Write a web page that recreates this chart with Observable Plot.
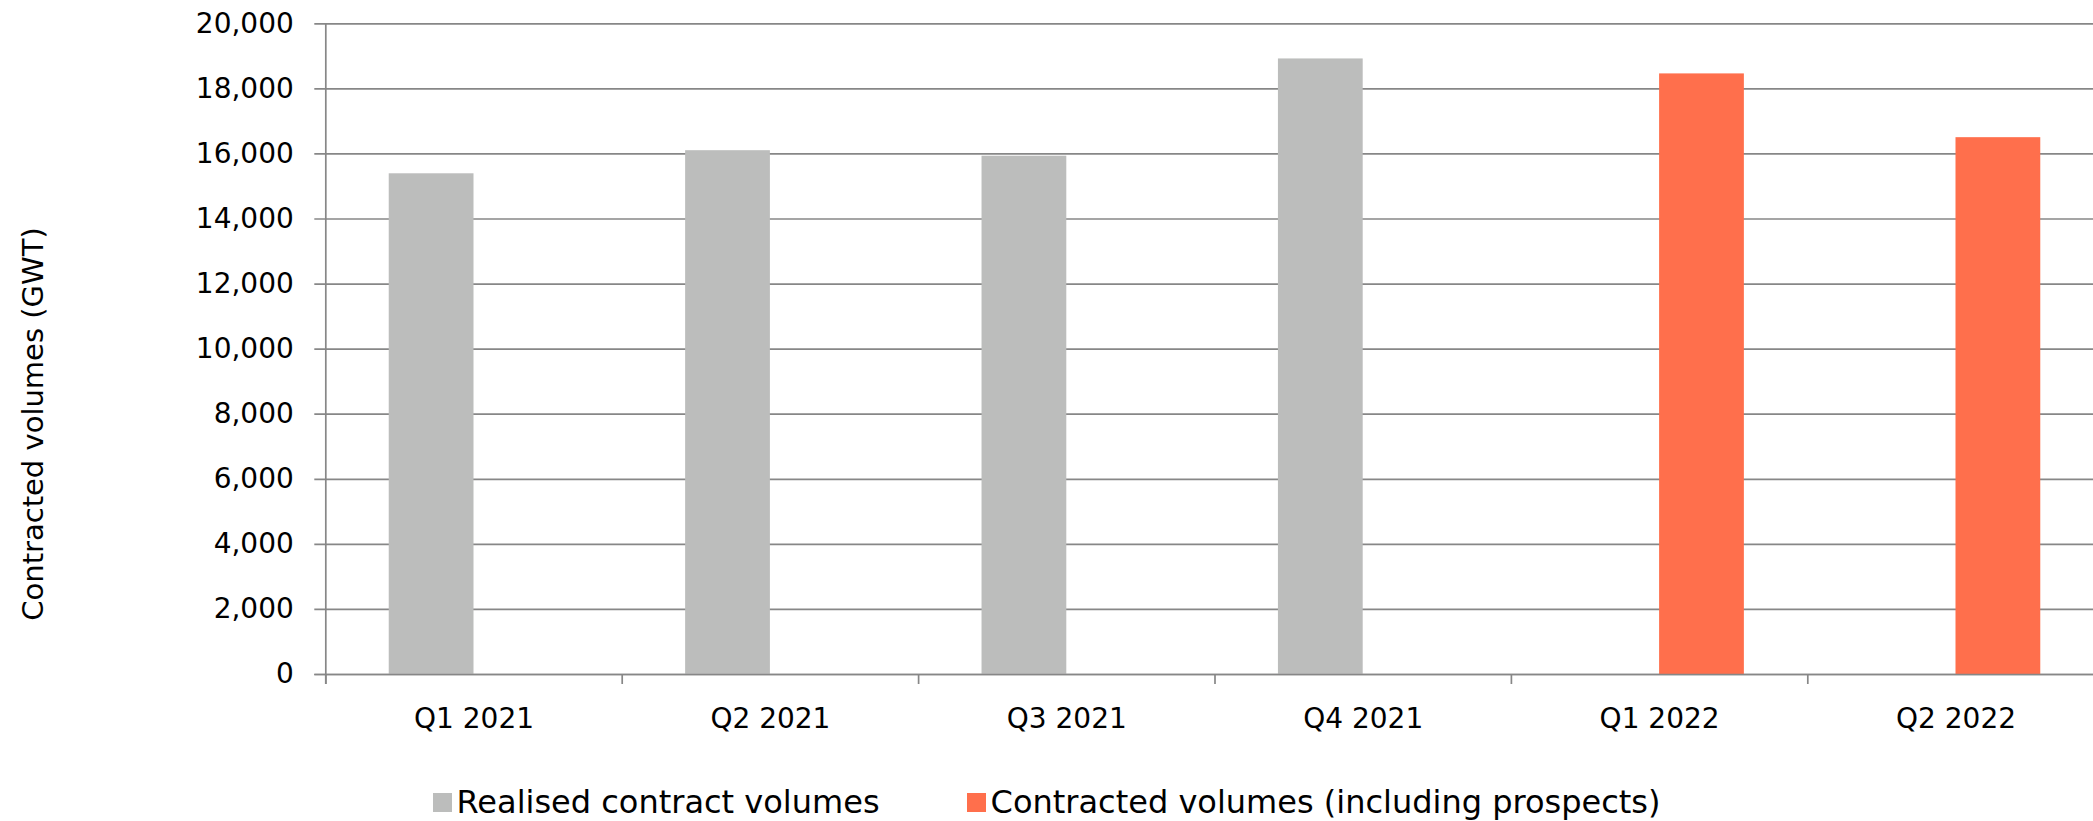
<!DOCTYPE html>
<html>
<head>
<meta charset="utf-8">
<script src="https://cdn.jsdelivr.net/npm/d3@7"></script>
<script src="https://cdn.jsdelivr.net/npm/@observablehq/plot@0.6"></script>
<style>
  html, body { margin: 0; padding: 0; background: #fff; overflow: hidden; width: 2093px; height: 821px; }
  #wrap { position: relative; width: 2093px; height: 821px; }
  #chart svg { display: block; max-width: none !important; }
  #chart svg text { font-family: "DejaVu Sans", sans-serif; font-size: 28px; fill: #000; }
  #ytitle {
    position: absolute; left: 33px; top: 424px;
    transform: translate(-50%, -50%) rotate(-90deg);
    font-family: "DejaVu Sans", sans-serif; font-size: 29px; line-height: 1;
    white-space: nowrap; color: #000;
  }
  #legend {
    display: flex; justify-content: center; align-items: center;
    height: 61px; padding-top: 23px; box-sizing: border-box;
    font-family: "DejaVu Sans", sans-serif; font-size: 32px; color: #000; white-space: nowrap;
  }
  .item { display: flex; align-items: center; }
  .item + .item { margin-left: 87px; }
  .sw { width: 19px; height: 19px; margin-right: 5px; }
</style>
</head>
<body>
<div id="wrap">
  <div id="chart"></div>
  <div id="ytitle">Contracted volumes (GWT)</div>
  <div id="legend"></div>
</div>
<script>
// ---- data ----
const quarters = ["Q1 2021", "Q2 2021", "Q3 2021", "Q4 2021", "Q1 2022", "Q2 2022"];
const realised = [15390, 16100, 15930, 18920, null, null];
const contracted = [null, null, null, null, 18460, 16500];
const yTicks = [0, 2000, 4000, 6000, 8000, 10000, 12000, 14000, 16000, 18000, 20000];
const seriesNames = ["Realised contract volumes", "Contracted volumes (including prospects)"];
const seriesColors = ["#BCBDBC", "#FF6F4C"];

// ---- layout ----
const W = 2093, H = 760;
const left = 325.3, step = 296.4;
const barFrac = 0.286; // bar width relative to category band

const rowsR = quarters.map((q, i) => ({q, i, v: realised[i]})).filter(d => d.v != null);
const rowsC = quarters.map((q, i) => ({q, i, v: contracted[i]})).filter(d => d.v != null);
const bounds = quarters.map((q, i) => i);
const centers = quarters.map((q, i) => i + 0.5);
const gridColor = "#878787";

const chart = Plot.plot({
  width: W,
  height: H,
  marginLeft: left,
  marginRight: 0,
  marginTop: 23.3,
  marginBottom: H - 674,
  x: {
    type: "linear",
    domain: [0, quarters.length],
    range: [left, left + step * quarters.length],
    ticks: centers,
    tickFormat: d => quarters[Math.floor(d)],
    tickSize: 0,
    tickPadding: 34,
    label: null
  },
  y: {
    domain: [0, 20000],
    ticks: yTicks,
    tickFormat: d3.format(","),
    tickSize: 0,
    tickPadding: 32,
    label: null
  },
  marks: [
    Plot.ruleY(yTicks, {stroke: gridColor, strokeWidth: 1.7, insetLeft: -11}),
    Plot.rect(rowsR, {x1: d => d.i + 0.5 - barFrac, x2: d => d.i + 0.5, y1: 0, y2: "v", fill: seriesColors[0]}),
    Plot.rect(rowsC, {x1: d => d.i + 0.5, x2: d => d.i + 0.5 + barFrac, y1: 0, y2: "v", fill: seriesColors[1]}),
    Plot.ruleY([0], {stroke: gridColor, strokeWidth: 1.7, insetLeft: -11}),
    Plot.ruleX([0], {stroke: gridColor, strokeWidth: 1.7, insetBottom: -10}),
    Plot.ruleX(bounds, {y1: 0, y2: 0, stroke: gridColor, strokeWidth: 1.7, insetBottom: -10})
  ]
});
document.getElementById("chart").appendChild(chart);

// ---- legend ----
const legend = document.getElementById("legend");
seriesNames.forEach((name, k) => {
  const item = document.createElement("div");
  item.className = "item";
  const sw = document.createElement("div");
  sw.className = "sw";
  sw.style.background = seriesColors[k];
  const t = document.createElement("span");
  t.textContent = name;
  item.appendChild(sw);
  item.appendChild(t);
  legend.appendChild(item);
});
</script>
</body>
</html>
